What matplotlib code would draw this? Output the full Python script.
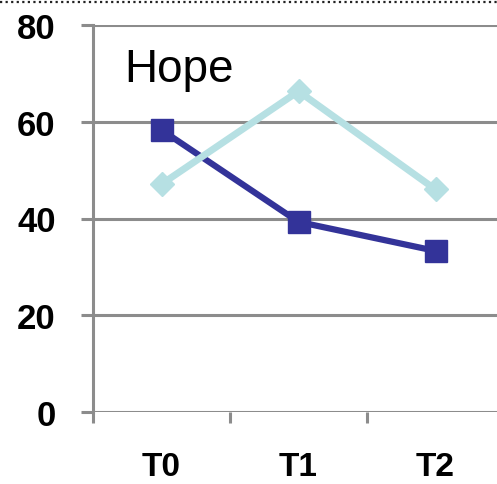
import matplotlib
matplotlib.use("Agg")
import matplotlib.pyplot as plt
from matplotlib.lines import Line2D

categories = ["T0", "T1", "T2"]
dark_vals = [58.3, 39.3, 33.3]
light_vals = [47.1, 66.3, 46.0]
yticks = [0, 20, 40, 60, 80]

plt.rcParams['font.family'] = ['Liberation Sans', 'DejaVu Sans']

W, H = 497, 485
fig = plt.figure(figsize=(W / 100, H / 100), dpi=100)
# axes box in pixels: left 93, right 504 (runs past the edge), y 26..413
ax = fig.add_axes([93 / W, (H - 413) / H, (504 - 93) / W, (413 - 26) / H])

grid_col = "#8c8c8c"
x = list(range(len(categories)))

ax.plot(x, dark_vals, color="#333399", lw=4.5, marker="s", ms=16,
        zorder=3, solid_capstyle="butt")
ax.plot(x, light_vals, color="#b6e0e3", lw=5, marker="D", ms=12,
        zorder=4)

ax.set_xlim(-0.5, 2.5)
ax.set_ylim(0, 80)
ax.set_yticks(yticks)
ax.set_yticklabels([str(v) for v in yticks], fontsize=25, fontweight="bold")
for v in yticks:
    ax.axhline(v, color=grid_col, lw=2.2, zorder=1)

ax.set_xticks([-0.5, 0.5, 1.5], minor=False)
ax.set_xticklabels([])
ax.set_xticks(x, minor=True)
ax.set_xticklabels(categories, minor=True, fontsize=24, fontweight="bold")
ax.tick_params(axis="x", which="major", length=8, width=2.2, color=grid_col,
               direction="out")
ax.tick_params(axis="x", which="minor", length=0, pad=28)
ax.tick_params(axis="y", length=9, width=2.2, color=grid_col, pad=18)

for s in ["top", "right"]:
    ax.spines[s].set_visible(False)
ax.spines["bottom"].set_visible(False)
ax.spines["left"].set_color(grid_col)
ax.spines["left"].set_linewidth(2.2)

ax.text(-0.27, 75.4, "Hope", fontsize=33, va="top", ha="left")

# dotted border line at the top
fig.add_artist(Line2D([0, 1], [1 - 3 / H, 1 - 3 / H], transform=fig.transFigure,
                      color="#222222", lw=1.6, ls=(0, (1, 1.5))))

fig.savefig("out.png", dpi=100)
